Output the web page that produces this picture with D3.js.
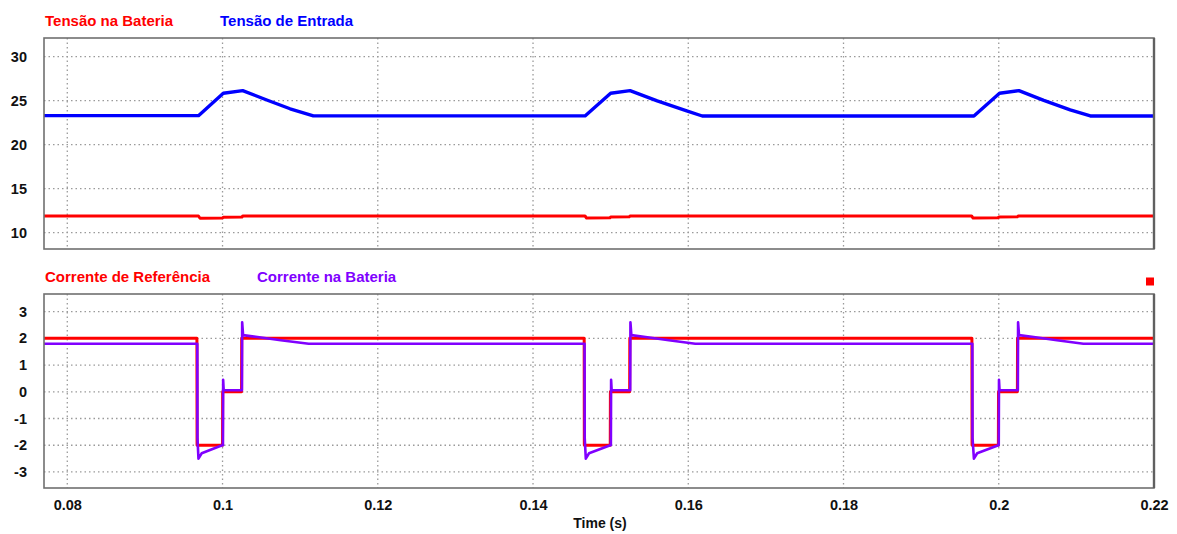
<!DOCTYPE html>
<html>
<head>
<meta charset="utf-8">
<script src="https://cdn.jsdelivr.net/npm/d3@7"></script>
<style>
  html, body { margin: 0; padding: 0; background: #fff; }
  svg { display: block; font-family: Arial, "Liberation Sans", sans-serif; }
</style>
</head>
<body>
<svg id="chart" width="1177" height="534"></svg>
<script>
// Time axis ticks (s)
const timeTicks = [0.08, 0.1, 0.12, 0.14, 0.16, 0.18, 0.2, 0.22];
const voltTicks = [10, 15, 20, 25, 30];
const currTicks = [-3, -2, -1, 0, 1, 2, 3];

// Upper panel: input voltage and battery voltage (V), [time, value]
const tensaoEntrada = [
  [0.0770, 23.3], [0.0969, 23.3], [0.1001, 25.84], [0.1026, 26.14],
  [0.1057, 25.08], [0.1087, 24.08], [0.1117, 23.27],
  [0.1467, 23.27], [0.1500, 25.84], [0.1525, 26.14],
  [0.1560, 24.98], [0.1598, 23.85], [0.1618, 23.26],
  [0.1968, 23.26], [0.2001, 25.84], [0.2026, 26.14],
  [0.2058, 25.04], [0.2092, 23.96], [0.2118, 23.26],
  [0.2200, 23.26]
];
const tensaoBateria = [
  [0.0770, 11.9], [0.0969, 11.9], [0.0971, 11.64], [0.1000, 11.67],
  [0.1001, 11.76], [0.1025, 11.78], [0.1026, 11.9],
  [0.1467, 11.9], [0.1469, 11.66], [0.1499, 11.69],
  [0.1500, 11.78], [0.1524, 11.8], [0.1525, 11.9],
  [0.1965, 11.9], [0.1967, 11.66], [0.1999, 11.69],
  [0.2000, 11.78], [0.2024, 11.8], [0.2025, 11.9],
  [0.2200, 11.9]
];

// Lower panel: reference current and battery current (A), [time, value]
const correnteReferencia = [
  [0.0770, 2], [0.09670, 2], [0.09672, -2], [0.10000, -2], [0.10002, 0],
  [0.10245, 0], [0.10247, 2],
  [0.14659, 2], [0.14661, -2], [0.14995, -2], [0.14997, 0],
  [0.15245, 0], [0.15247, 2],
  [0.19654, 2], [0.19656, -2], [0.19995, -2], [0.19997, 0],
  [0.20240, 0], [0.20242, 2],
  [0.2200, 2]
];
const correnteBateria = [
  [0.0770, 1.8], [0.09675, 1.8], [0.09677, -1.72], [0.0969, -2.5], [0.09732, -2.3],
  [0.09995, -2.0], [0.10005, -2.0], [0.10008, 0.45], [0.10015, 0.06],
  [0.10250, 0.06], [0.10253, 2.6], [0.10265, 2.12], [0.1045, 2.05],
  [0.1075, 1.93], [0.1111, 1.8],
  [0.14664, 1.8], [0.14666, -1.72], [0.1468, -2.5], [0.14722, -2.3],
  [0.14995, -2.0], [0.15003, -2.0], [0.15006, 0.45], [0.15013, 0.06],
  [0.15252, 0.06], [0.15255, 2.6], [0.15267, 2.12], [0.1545, 2.05],
  [0.1575, 1.93], [0.1609, 1.8],
  [0.19660, 1.8], [0.19662, -1.72], [0.1968, -2.5], [0.19722, -2.3],
  [0.19995, -2.0], [0.20000, -2.0], [0.20003, 0.45], [0.20010, 0.06],
  [0.20246, 0.06], [0.20249, 2.6], [0.20261, 2.12], [0.2045, 2.05],
  [0.2075, 1.93], [0.2109, 1.8],
  [0.2200, 1.8]
];

const svg = d3.select("#chart");
const left = 44, right = 1154;
const labelFont = "Arial, 'Liberation Sans', sans-serif";

const x = d3.scaleLinear().domain([0.077, 0.22]).range([left, right]);

const panels = [
  {
    top: 38, bottom: 249,
    y: d3.scaleLinear().domain([8.15, 32.12]).range([249, 38]),
    ticks: voltTicks,
    series: [
      { data: tensaoBateria, color: "#ff0000", width: 3 },
      { data: tensaoEntrada, color: "#0000ff", width: 3.4 }
    ],
    legend: [
      { text: "Tensão na Bateria", color: "#ff0000", x: 45 },
      { text: "Tensão de Entrada", color: "#0000ff", x: 220 }
    ],
    legendY: 26
  },
  {
    top: 294, bottom: 488,
    y: d3.scaleLinear().domain([-3.6, 3.66]).range([488, 294]),
    ticks: currTicks,
    series: [
      { data: correnteReferencia, color: "#ff0000", width: 3 },
      { data: correnteBateria, color: "#8000ff", width: 2.6 }
    ],
    legend: [
      { text: "Corrente de Referência", color: "#ff0000", x: 45 },
      { text: "Corrente na Bateria", color: "#8000ff", x: 257 }
    ],
    legendY: 282
  }
];

panels.forEach(p => {
  const g = svg.append("g");

  // dotted grid
  g.append("g").selectAll("line")
    .data(p.ticks).join("line")
    .attr("x1", left).attr("x2", right)
    .attr("y1", d => p.y(d)).attr("y2", d => p.y(d))
    .attr("stroke", "#9a9a9a").attr("stroke-width", 1.3)
    .attr("stroke-dasharray", "1.5,3");
  g.append("g").selectAll("line")
    .data(timeTicks.filter(t => t < 0.219)).join("line")
    .attr("x1", d => x(d)).attr("x2", d => x(d))
    .attr("y1", p.top).attr("y2", p.bottom)
    .attr("stroke", "#9a9a9a").attr("stroke-width", 1.3)
    .attr("stroke-dasharray", "1.5,3");

  // y tick labels (plain hyphen for negatives)
  const yAxis = d3.axisLeft(p.y).tickValues(p.ticks).tickSize(0).tickPadding(17)
    .tickFormat(d => String(d));
  const ya = g.append("g").attr("transform", `translate(${left},0)`).call(yAxis);
  ya.select(".domain").remove();
  ya.selectAll("text")
    .attr("font-size", 14.5).attr("font-weight", "bold")
    .attr("fill", "#111").attr("font-family", labelFont);

  // series
  const line = d3.line().x(d => x(d[0])).y(d => p.y(d[1]));
  const clipId = "clip" + p.top;
  svg.append("clipPath").attr("id", clipId).append("rect")
    .attr("x", left).attr("y", p.top).attr("width", right - left).attr("height", p.bottom - p.top);
  p.series.forEach(s => {
    g.append("path").datum(s.data)
      .attr("d", line)
      .attr("fill", "none")
      .attr("stroke", s.color)
      .attr("stroke-width", s.width)
      .attr("stroke-linejoin", "round")
      .attr("clip-path", `url(#${clipId})`);
  });

  // frame
  g.append("rect")
    .attr("x", left).attr("y", p.top)
    .attr("width", right - left).attr("height", p.bottom - p.top)
    .attr("fill", "none").attr("stroke", "#707070").attr("stroke-width", 1.6);
  g.append("line")
    .attr("x1", right).attr("x2", right).attr("y1", p.top).attr("y2", p.bottom)
    .attr("stroke", "#606060").attr("stroke-width", 2.4);

  // legend labels
  g.selectAll("text.legend").data(p.legend).join("text")
    .attr("class", "legend")
    .attr("x", d => d.x).attr("y", p.legendY)
    .attr("fill", d => d.color)
    .attr("font-size", 15).attr("font-weight", "bold")
    .text(d => d.text);
});

// small marker at the upper right of the lower panel
svg.append("rect")
  .attr("x", 1146).attr("y", 277.5).attr("width", 8).attr("height", 8)
  .attr("fill", "#ff0000");

// time axis labels
const xAxis = d3.axisBottom(x).tickValues(timeTicks).tickSize(0).tickPadding(12)
  .tickFormat(d => String(+d.toFixed(2)));
const xa = svg.append("g").attr("transform", "translate(0,488)").call(xAxis);
xa.select(".domain").remove();
xa.selectAll("text")
  .attr("font-size", 14.5).attr("font-weight", "bold")
  .attr("fill", "#111").attr("font-family", labelFont);

svg.append("text")
  .attr("x", 600).attr("y", 528)
  .attr("text-anchor", "middle")
  .attr("font-size", 14).attr("font-weight", "bold").attr("fill", "#111")
  .text("Time (s)");
</script>
</body>
</html>
